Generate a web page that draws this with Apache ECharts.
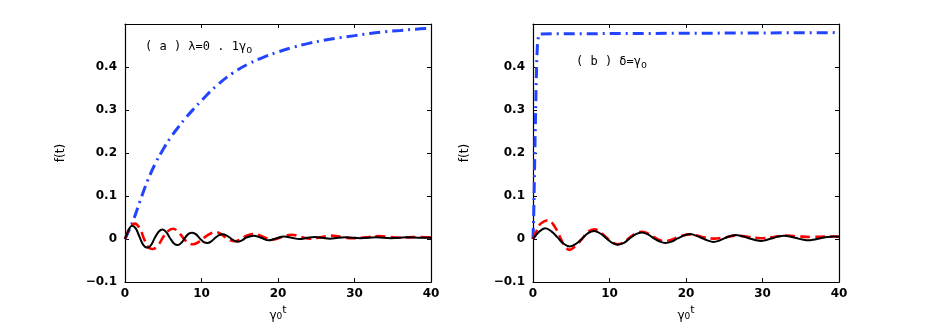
<!DOCTYPE html>
<html>
<head>
<meta charset="utf-8">
<script src="https://cdn.jsdelivr.net/npm/echarts@6/dist/echarts.min.js"></script>
<style>
  html, body { margin: 0; padding: 0; background: #fff; }
  #main { width: 926px; height: 327px; }
</style>
</head>
<body>
<div id="main"></div>
<script type="text/javascript">
    // panel (a): lambda = 0.1 gamma0, [gamma0 t, f(t)]
    var blueA = [[0, 0], [1, 0.04], [2, 0.09], [3, 0.138], [4, 0.177], [5, 0.209], [6, 0.237], [7, 0.261],
        [8, 0.283], [9, 0.303], [10, 0.322], [12, 0.357], [14, 0.385], [16, 0.406], [18, 0.422], [20, 0.435],
        [22, 0.446], [24, 0.455], [26, 0.462], [28, 0.468], [30, 0.473], [32, 0.478], [34, 0.482],
        [36, 0.485], [38, 0.488], [40, 0.49]];
    var redA = [[0, 0], [0.6, 0.025], [1.3, 0.036], [2.0, 0.022], [2.5, 0.0], [3.0, -0.018], [3.6, -0.023],
        [4.3, -0.015], [4.9, 0.002], [5.5, 0.017], [6.3, 0.024], [7.0, 0.016], [7.6, 0.003], [8.2, -0.008],
        [8.9, -0.012], [9.6, -0.007], [10.4, 0.004], [11.2, 0.013], [11.9, 0.016], [12.6, 0.011], [13.2, 0.003],
        [13.8, -0.003], [14.4, -0.005], [15.1, -0.001], [15.9, 0.008], [16.8, 0.012], [17.7, 0.008], [18.5, 0.002],
        [19.4, -0.001], [20.4, 0.004], [21.8, 0.01], [23.0, 0.005], [24.2, 0.001], [25.5, 0.004], [26.9, 0.008],
        [28.3, 0.005], [29.7, 0.002], [31.4, 0.004], [33.2, 0.007], [34.5, 0.005], [35.8, 0.003], [37.1, 0.004],
        [38.4, 0.005], [40, 0.004]];
    var blackA = [[0, 0], [0.5, 0.022], [0.9, 0.031], [1.4, 0.025], [1.9, 0.005], [2.4, -0.014], [2.9, -0.02],
        [3.4, -0.014], [3.9, 0.003], [4.4, 0.017], [4.9, 0.022], [5.4, 0.016], [5.9, 0.002], [6.4, -0.01],
        [6.9, -0.014], [7.4, -0.008], [7.8, 0.002], [8.3, 0.012], [8.8, 0.015], [9.3, 0.011], [9.8, 0.001],
        [10.3, -0.007], [10.8, -0.009], [11.3, -0.005], [11.8, 0.003], [12.3, 0.009], [12.8, 0.011], [13.3, 0.008],
        [13.8, 0.002], [14.3, -0.004], [14.8, -0.006], [15.3, -0.003], [15.8, 0.003], [16.8, 0.008], [17.8, 0.003],
        [18.8, -0.003], [19.8, 0.002], [20.8, 0.006], [21.8, 0.003], [22.8, 0.0], [23.8, 0.003], [24.8, 0.005],
        [25.8, 0.003], [26.8, 0.001], [27.8, 0.003], [28.8, 0.004], [30.8, 0.002], [32.8, 0.004], [34.8, 0.002],
        [36.8, 0.004], [38.8, 0.003], [40, 0.003]];

    // panel (b): delta = gamma0
    var blueB = [[0, 0], [0.1, 0.06], [0.2, 0.16], [0.3, 0.26], [0.4, 0.35], [0.5, 0.42], [0.6, 0.46],
        [0.8, 0.477], [1.0, 0.48], [40, 0.48]];
    var redB = [[0, 0], [0.5, 0.02], [1.0, 0.036], [2.0, 0.044], [2.8, 0.03], [3.4, 0.01], [4.1, -0.015],
        [4.8, -0.025], [5.5, -0.017], [6.4, 0.0], [7.2, 0.017], [8.0, 0.023], [8.8, 0.016], [9.5, 0.005],
        [10.3, -0.007], [11.0, -0.012], [11.8, -0.008], [12.6, 0.003], [13.4, 0.013], [14.2, 0.017], [15.0, 0.013],
        [15.7, 0.006], [16.5, -0.002], [17.2, -0.005], [18.0, -0.002], [18.9, 0.004], [19.7, 0.009], [20.5, 0.011],
        [21.3, 0.009], [22.1, 0.005], [23.6, 0.001], [25.1, 0.004], [26.6, 0.008], [28.2, 0.005], [29.8, 0.002],
        [31.5, 0.005], [33.1, 0.008], [34.8, 0.006], [36.4, 0.005], [38.2, 0.006], [40, 0.006]];
    var blackB = [[0, 0], [0.8, 0.017], [1.6, 0.025], [2.4, 0.018], [3.2, 0.004], [4.0, -0.011], [4.8, -0.017],
        [5.6, -0.011], [6.4, 0.001], [7.2, 0.014], [8.0, 0.019], [8.8, 0.013], [9.5, 0.003], [10.3, -0.008],
        [11.1, -0.013], [11.9, -0.009], [12.6, 0.001], [13.4, 0.011], [14.2, 0.0155], [15.0, 0.011], [15.7, 0.003],
        [16.5, -0.005], [17.3, -0.009], [18.1, -0.006], [18.9, 0.0015], [19.7, 0.008], [20.5, 0.012], [21.3, 0.008],
        [22.0, 0.003], [22.8, -0.003], [23.6, -0.0065], [24.3, -0.004], [25.0, 0.0015], [25.8, 0.007], [26.5, 0.0097],
        [27.3, 0.007], [28.1, 0.0025], [29.0, -0.002], [29.8, -0.0045], [30.5, -0.002], [31.3, 0.002], [32.0, 0.006],
        [32.8, 0.008], [33.6, 0.006], [34.4, 0.0025], [35.2, -0.001], [36.0, -0.003], [36.8, -0.001], [37.6, 0.002],
        [38.5, 0.005], [39.3, 0.006], [40, 0.0055]];

    var xTicks = [0, 10, 20, 30, 40];
    var yTicks = [-0.1, 0, 0.1, 0.2, 0.3, 0.4];

    var FONT = 'DejaVu Sans';
    var BLUE = '#2244ff', RED = '#ff0000', BLACK = '#000000';

    function yLabel(v) {
        var r = Math.round(v * 10) / 10;
        if (yTicks.indexOf(r) < 0) return '';
        if (r < 0) return '\u2212' + Math.abs(r);
        return String(r);
    }

    function xAxisPair(grid) {
        var common = {
            type: 'value', gridIndex: grid, min: 0, max: 40, interval: 10,
            axisLine: { show: true, onZero: false, lineStyle: { color: '#000', width: 1.2 } },
            axisTick: { show: true, inside: true, length: 4, lineStyle: { color: '#000' } },
            splitLine: { show: false }
        };
        return [
            Object.assign({}, common, {
                position: 'bottom',
                axisLabel: { show: true, color: '#000', fontFamily: FONT, fontSize: 12, fontWeight: 'bold', margin: 6,
                    showMinLabel: true, showMaxLabel: true,
                    formatter: function (v) { return xTicks.indexOf(v) >= 0 ? String(v) : ''; } },
                name: '{g|γ}{s|0}{t|t}', nameLocation: 'middle', nameGap: 14,
                nameTextStyle: { rich: {
                    g: { fontFamily: FONT, fontSize: 12, color: '#000', verticalAlign: 'bottom' },
                    s: { fontFamily: FONT, fontSize: 9, color: '#000', padding: [6, 0, 0, 0] },
                    t: { fontFamily: FONT, fontSize: 11, color: '#000', padding: [0, 0, 6, 0] }
                } }
            }),
            Object.assign({}, common, { position: 'top', axisLabel: { show: false } })
        ];
    }

    function yAxisPair(grid, gap) {
        var common = {
            type: 'value', gridIndex: grid, min: -0.1, max: 0.5, interval: 0.1,
            axisLine: { show: true, onZero: false, lineStyle: { color: '#000', width: 1.2 } },
            axisTick: { show: true, inside: true, length: 4, lineStyle: { color: '#000' } },
            splitLine: { show: false }
        };
        return [
            Object.assign({}, common, {
                position: 'left',
                axisLabel: { show: true, color: '#000', fontFamily: FONT, fontSize: 12, fontWeight: 'bold', margin: 8,
                    showMinLabel: true, showMaxLabel: true, formatter: yLabel },
                name: 'f(t)', nameLocation: 'middle', nameGap: gap, nameRotate: 90,
                nameTextStyle: { fontFamily: FONT, fontSize: 12, color: '#000' }
            }),
            Object.assign({}, common, { position: 'right', axisLabel: { show: false } })
        ];
    }

    function line(data, color, type, width, xi, yi, z) {
        return {
            type: 'line', data: data, xAxisIndex: xi, yAxisIndex: yi,
            showSymbol: false, smooth: 0.4, z: z, silent: true,
            lineStyle: { color: color, width: width, type: type }
        };
    }

    var dashDot = [11, 5, 2, 5];
    var dashed = [10, 5];

    var option = {
        backgroundColor: '#fff',
        animation: false,
        grid: [
            { left: 125, top: 24, width: 306, height: 266 },
            { left: 533, top: 24, width: 306, height: 266 }
        ],
        xAxis: xAxisPair(0).concat(xAxisPair(1)),
        yAxis: yAxisPair(0, 58).concat(yAxisPair(1, 62)),
        series: [
            line(blueA, BLUE, dashDot, 3, 0, 0, 2),
            line(redA, RED, dashed, 2.6, 0, 0, 3),
            line(blackA, BLACK, 'solid', 2, 0, 0, 4),
            Object.assign(line(blueB, BLUE, dashDot, 3, 2, 2, 2), { smooth: false }),
            line(redB, RED, dashed, 2.6, 2, 2, 3),
            line(blackB, BLACK, 'solid', 2, 2, 2, 4)
        ],
        graphic: [
            {
                type: 'text', left: 145, top: 41,
                style: {
                    text: '{a|( a ) λ=0 . 1γ}{s|o}',
                    rich: {
                        a: { fontFamily: 'DejaVu Sans Mono', fontSize: 12, fill: '#000' },
                        s: { fontFamily: 'DejaVu Sans Mono', fontSize: 10, fill: '#000', padding: [6, 0, 0, 0] }
                    }
                }
            },
            {
                type: 'text', left: 576, top: 56,
                style: {
                    text: '{a|( b ) δ=γ}{s|o}',
                    rich: {
                        a: { fontFamily: 'DejaVu Sans Mono', fontSize: 12, fill: '#000' },
                        s: { fontFamily: 'DejaVu Sans Mono', fontSize: 10, fill: '#000', padding: [6, 0, 0, 0] }
                    }
                }
            }
        ]
    };

    var chart = echarts.init(document.getElementById('main'));
    chart.setOption(option);
</script>
</body>
</html>
